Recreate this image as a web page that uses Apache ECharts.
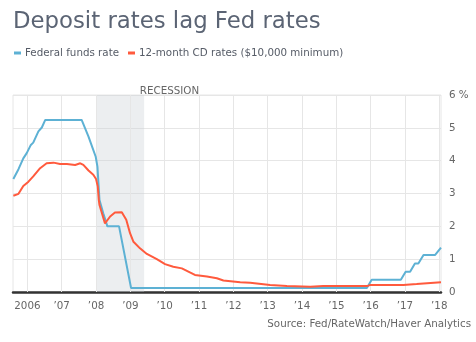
<!DOCTYPE html>
<html>
<head>
<meta charset="utf-8">
<script src="https://cdn.jsdelivr.net/npm/echarts@6/dist/echarts.min.js"></script>
<style>
  html, body { margin: 0; padding: 0; background: #fff; }
  #chart { width: 476px; height: 342px; }
</style>
</head>
<body>
<div id="chart"></div>
<script>
// Effective federal funds rate, [decimal year, %]
const fedFunds = [
  [2005.59, 3.44], [2005.74, 3.74], [2005.88, 4.07], [2005.98, 4.23],
  [2006.10, 4.48], [2006.17, 4.55], [2006.32, 4.89], [2006.42, 5.01],
  [2006.52, 5.24], [2007.58, 5.24], [2007.78, 4.73], [2007.90, 4.38],
  [2007.99, 4.12], [2008.04, 3.82], [2008.10, 2.80], [2008.21, 2.40],
  [2008.33, 2.00], [2008.67, 2.00], [2009.02, 0.12], [2015.89, 0.12],
  [2016.03, 0.37], [2016.88, 0.37], [2017.02, 0.62], [2017.15, 0.62],
  [2017.29, 0.87], [2017.39, 0.87], [2017.54, 1.13], [2017.88, 1.13],
  [2018.05, 1.35]
];

// 12-month CD rates, $10,000 minimum, [decimal year, %]
const cdRates = [
  [2005.59, 2.93], [2005.74, 2.99], [2005.88, 3.23], [2006.03, 3.36],
  [2006.17, 3.52], [2006.37, 3.77], [2006.56, 3.92], [2006.76, 3.94],
  [2006.95, 3.90], [2007.15, 3.90], [2007.39, 3.87], [2007.54, 3.92],
  [2007.63, 3.87], [2007.78, 3.70], [2007.92, 3.57], [2008.00, 3.44],
  [2008.05, 3.21], [2008.08, 2.80], [2008.10, 2.65], [2008.26, 2.09],
  [2008.41, 2.30], [2008.55, 2.42], [2008.75, 2.43], [2008.88, 2.20],
  [2008.99, 1.79], [2009.09, 1.53], [2009.28, 1.33], [2009.48, 1.16],
  [2009.77, 1.00], [2010.01, 0.85], [2010.25, 0.77], [2010.50, 0.72],
  [2010.69, 0.62], [2010.88, 0.52], [2011.23, 0.47], [2011.52, 0.42],
  [2011.71, 0.35], [2012.20, 0.30], [2012.49, 0.28], [2013.07, 0.21],
  [2013.56, 0.18], [2014.24, 0.16], [2014.62, 0.18], [2015.89, 0.18],
  [2015.98, 0.21], [2016.95, 0.21], [2017.34, 0.24], [2018.05, 0.30]
];

// Recession period (start, end) in decimal years
const recession = [2008.02, 2009.40];

// Year ticks and their labels
const yearTicks = [2006, 2007, 2008, 2009, 2010, 2011, 2012, 2013, 2014, 2015, 2016, 2017, 2018];
const yearLabels = ['2006', '\u201907', '\u201908', '\u201909', '\u201910', '\u201911', '\u201912',
                    '\u201913', '\u201914', '\u201915', '\u201916', '\u201917', '\u201918'];

const FONT = 'DejaVu Sans';
const SMALL = 10.3;
const GRID_COLOR = '#e6e6e6';
const chart = echarts.init(document.getElementById('chart'), null, { renderer: 'canvas' });

chart.setOption({
  animation: false,
  backgroundColor: '#ffffff',
  title: {
    text: 'Deposit rates lag Fed rates',
    left: 8,
    top: 6,
    textStyle: { fontFamily: FONT, fontSize: 22.8, fontWeight: 'normal', color: '#5b6474' }
  },
  legend: {
    left: 9,
    top: 43,
    itemWidth: 7,
    itemHeight: 3,
    itemGap: 9,
    icon: 'rect',
    textStyle: { fontFamily: FONT, fontSize: SMALL, color: '#555b66', padding: [0, 0, 0, -1] },
    data: ['Federal funds rate', '12-month CD rates ($10,000 minimum)']
  },
  graphic: [{
    type: 'text',
    right: 5,
    top: 319,
    style: { text: 'Source: Fed/RateWatch/Haver Analytics', font: SMALL + 'px "DejaVu Sans"', fill: '#666' }
  }],
  grid: {
    left: 13, right: 35, top: 95, bottom: 50,
    show: true, borderColor: GRID_COLOR, borderWidth: 1, backgroundColor: 'transparent'
  },
  xAxis: {
    type: 'value',
    min: 2005.58,
    max: 2018.05,
    axisLine: { show: true, onZero: false, lineStyle: { color: '#333', width: 2.5 } },
    axisTick: { show: false, customValues: yearTicks },
    splitLine: { show: false },
    axisLabel: {
      customValues: yearTicks,
      margin: 9,
      fontFamily: FONT, fontSize: SMALL, color: '#666',
      formatter: v => yearLabels[yearTicks.indexOf(Math.round(v))]
    }
  },
  yAxis: {
    type: 'value',
    position: 'right',
    min: 0, max: 6, interval: 1,
    axisLine: { show: false },
    axisTick: { show: false },
    splitLine: { lineStyle: { color: GRID_COLOR, width: 1 } },
    axisLabel: {
      margin: 8,
      fontFamily: FONT, fontSize: SMALL, color: '#666',
      formatter: v => (v === 6 ? '6 %' : String(v))
    }
  },
  series: [
    {
      // background layer: recession band and yearly grid lines
      name: 'background',
      type: 'line',
      data: [],
      silent: true,
      markArea: {
        silent: true,
        z: 1,
        itemStyle: { color: 'rgba(200,205,212,0.35)' },
        label: {
          show: true,
          position: ['91%', -4],
          verticalAlign: 'middle',
          fontFamily: FONT, fontSize: SMALL, color: '#666',
          formatter: 'RECESSION'
        },
        data: [[{ xAxis: recession[0] }, { xAxis: recession[1] }]]
      },
      markLine: {
        silent: true,
        z: 1.5,
        symbol: 'none',
        label: { show: false },
        lineStyle: { color: GRID_COLOR, width: 1, type: 'solid' },
        data: yearTicks.map(y => ({ xAxis: y }))
      }
    },
    {
      name: 'Federal funds rate',
      type: 'line',
      data: fedFunds,
      showSymbol: false,
      z: 3,
      color: '#5db1d4',
      lineStyle: { width: 2 }
    },
    {
      name: '12-month CD rates ($10,000 minimum)',
      type: 'line',
      data: cdRates,
      showSymbol: false,
      z: 3,
      color: '#ff5a3d',
      lineStyle: { width: 2 }
    }
  ]
});
</script>
</body>
</html>
